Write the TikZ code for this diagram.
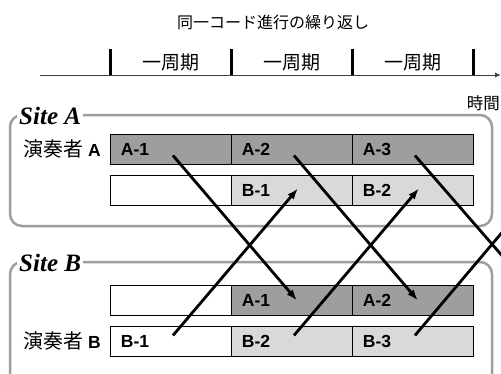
\documentclass[tikz,border=0pt]{standalone}
\usepackage{fontspec}
\setmainfont{Liberation Serif}
\newfontfamily\jpfont{Noto Sans CJK JP}
\newfontfamily\hvfont{Liberation Sans}
\usetikzlibrary{arrows.meta,calc}
\definecolor{cellA}{gray}{0.62}
\definecolor{cellB}{gray}{0.85}
\definecolor{siteline}{gray}{0.62}
\begin{document}
\begin{tikzpicture}[x=1pt,y=-1pt,
  cell/.style={draw,line width=0.9pt,minimum width=121pt,minimum height=30pt,
    text width=100pt,align=left,inner xsep=10.5pt,inner ysep=0pt,anchor=north west,
    font=\hvfont\bfseries\fontsize{17.5}{19}\selectfont},
  cellfa/.style={cell,fill=cellA},
  cellfb/.style={cell,fill=cellB},
  cellfw/.style={cell,fill=white},
  sitebox/.style={draw=siteline,line width=2.5pt,rounded corners=12pt},
  sitelabel/.style={fill=white,inner xsep=2pt,inner ysep=1pt,anchor=base west,
    font=\bfseries\itshape\fontsize{25}{28}\selectfont},
  jp/.style={font=\jpfont\fontsize{16}{19}\selectfont,inner sep=0pt},
  timelabel/.style={font=\jpfont\fontsize{16.5}{19}\selectfont,inner sep=0pt,anchor=east},
  period/.style={font=\jpfont\fontsize{19}{22}\selectfont,inner sep=0pt},
  player/.style={font=\jpfont\fontsize{20}{22}\selectfont,inner sep=0pt,anchor=east},
  flow/.style={line width=2.8pt,-{Latex[length=11pt,width=8pt]}},
  flowfree/.style={line width=2.8pt},
  axis/.style={line width=0.9pt,draw=black!75,-{Latex[length=6pt,width=5pt]}},
  tick/.style={line width=3pt}
]
\clip (0,0) rectangle (501,373);
\fill[white] (0,0) rectangle (501,373);

% title and time axis
\node[jp] (title) at (273,22) {同一コード進行の繰り返し};
\coordinate (axs) at (40,75);
\coordinate (axe) at (501,75);
\draw[axis] (axs) -- (axe);
\foreach \x in {110,231,352,473} \draw[tick] (\x,49) -- (\x,75);
\node[period] (p1) at (171,62) {一周期};
\node[period] (p2) at (292,62) {一周期};
\node[period] (p3) at (413,62) {一周期};
\node[timelabel] (time) at (500,103) {時間};

% site boxes
\draw[sitebox] (10,115) rectangle (492,226);
\draw[sitebox] (10,262) rectangle (492,420);
\node[sitelabel] (siteA) at (17,124) {Site A};
\node[sitelabel] (siteB) at (17,271) {Site B};

% Site A
\node[player] (plA) at (101,149) {演奏者 {\hvfont\bfseries\fontsize{17.5}{19}\selectfont A}};
\node[cellfa] (aA1) at (110,134) {A-1};
\node[cellfa] (aA2) at (231,134) {A-2};
\node[cellfa] (aA3) at (352,134) {A-3};
\node[cellfw] (aB0) at (110,175) {};
\node[cellfb] (aB1) at (231,175) {B-1};
\node[cellfb] (aB2) at (352,175) {B-2};

% Site B
\node[cellfw] (bA0) at (110,285) {};
\node[cellfa] (bA1) at (231,285) {A-1};
\node[cellfa] (bA2) at (352,285) {A-2};
\node[player] (plB) at (101,341) {演奏者 {\hvfont\bfseries\fontsize{17.5}{19}\selectfont B}};
\node[cellfw] (bB1) at (110,326) {B-1};
\node[cellfb] (bB2) at (231,326) {B-2};
\node[cellfb] (bB3) at (352,326) {B-3};

% transmissions
\coordinate (offA) at ($(aA3.center)+(188,220)$);
\coordinate (offB) at ($(bB3.center)+(188,-226)$);
\draw[flow] ($(aA1.center)+(2,6)$) -- ($(bA1.center)+(5,0)$);
\draw[flow] ($(aA2.center)+(2,6)$) -- ($(bA2.center)+(5,0)$);
\draw[flowfree] ($(aA3.center)+(2,6)$) -- (offA);
\draw[flow] ($(bB1.center)+(2,-6)$) -- ($(aB1.center)+(6,-2)$);
\draw[flow] ($(bB2.center)+(2,-6)$) -- ($(aB2.center)+(6,-2)$);
\draw[flowfree] ($(bB3.center)+(2,-6)$) -- (offB);
\end{tikzpicture}
\end{document}
